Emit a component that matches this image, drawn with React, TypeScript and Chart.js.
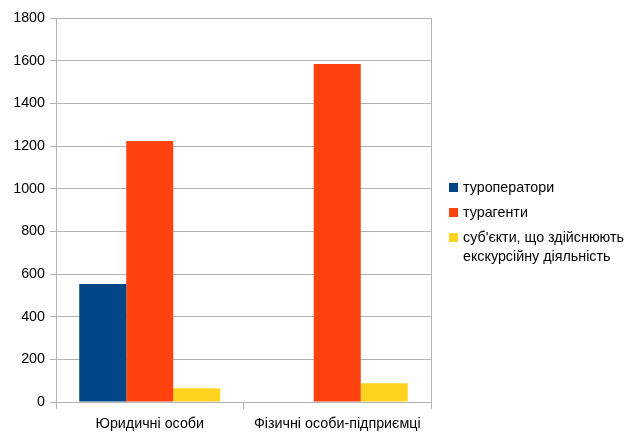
import React, { useEffect, useRef } from "react";
import { Chart, registerables } from "chart.js";

Chart.register(...registerables);

const categories = ["Юридичні особи", "Фізичні особи-підприємці"];
const seriesNames = ["туроператори", "турагенти", "суб'єкти, що здійснюють екскурсійну діяльність"];
const legendLines = [["туроператори"], ["турагенти"], ["суб'єкти, що здійснюють", "екскурсійну діяльність"]];
const touroperators = [553, 0];
const travelAgents = [1223, 1584];
const excursion = [64, 88];
const colors = ["#004586", "#ff420e", "#ffd320"];
const yMin = 0;
const yMax = 1800;
const yStep = 200;

const FONT = "'Liberation Sans', Arial, sans-serif";
const FS = 14.3;

export default function App() {
  const ref = useRef<HTMLCanvasElement | null>(null);
  useEffect(() => {
    if (!ref.current) return;
    const chart = new Chart(ref.current, {
      type: "bar",
      data: {
        labels: categories,
        datasets: [touroperators, travelAgents, excursion].map((d, i) => ({
          label: seriesNames[i],
          data: d,
          backgroundColor: colors[i],
          borderWidth: 0,
          categoryPercentage: 0.752,
          barPercentage: 1,
        })),
      },
      options: {
        responsive: false,
        animation: false,
        layout: { padding: { top: 18, right: 205, left: 0, bottom: 0 } },
        plugins: { legend: { display: false }, tooltip: { enabled: false } },
        scales: {
          x: {
            offset: true,
            grid: {
              offset: true,
              color: (c: any) => (c.index === 1 ? "rgba(0,0,0,0)" : "#b3b3b3"),
              tickColor: "#b3b3b3",
              tickLength: 7,
              lineWidth: 1,
            },
            border: { color: "#b3b3b3", width: 1 },
            ticks: { color: "#000", font: { family: FONT, size: FS }, padding: 6 },
            afterFit: (s: any) => {
              s.height = 31;
            },
          },
          y: {
            min: yMin,
            max: yMax,
            ticks: {
              stepSize: yStep,
              color: "#000",
              font: { family: FONT, size: FS },
              padding: 5,
              callback: (v: any) => String(v),
            },
            grid: { color: "#b3b3b3", tickColor: "#b3b3b3", tickLength: 6, lineWidth: 1 },
            border: { color: "#b3b3b3", width: 1 },
            afterFit: (s: any) => {
              s.width = 56;
            },
          },
        },
      },
    });
    return () => chart.destroy();
  }, []);

  return (
    <div style={{ position: "relative", width: 636, height: 433 }}>
      <style>{"body{margin:0;overflow:hidden}"}</style>
      <canvas ref={ref} width={636} height={433} style={{ display: "block" }} />
      <div style={{ position: "absolute", left: 449, top: 178, fontFamily: FONT, fontSize: FS, color: "#000" }}>
        {legendLines.map((lines, i) => (
          <div key={i} style={{ display: "flex", alignItems: "flex-start", marginBottom: 6, lineHeight: "19px" }}>
            <span
              style={{
                display: "inline-block",
                width: 9,
                height: 9,
                background: colors[i],
                marginTop: 5,
                marginRight: 5,
                flex: "none",
              }}
            />
            <span style={{ whiteSpace: "nowrap" }}>
              {lines.map((l, j) => (
                <div key={j}>{l}</div>
              ))}
            </span>
          </div>
        ))}
      </div>
    </div>
  );
}
